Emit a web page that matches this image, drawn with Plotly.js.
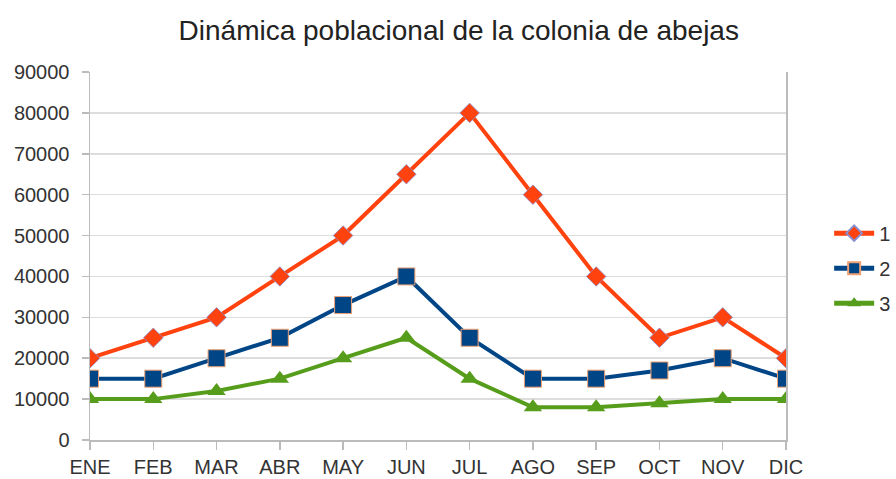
<!DOCTYPE html>
<html>
<head>
<meta charset="utf-8">
<script src="https://cdn.plot.ly/plotly-3.0.1.min.js"></script>
<style>html,body{margin:0;padding:0;background:#fff}#chart{width:896px;height:479px}</style>
</head>
<body>
<div id="chart"></div>
<script>
const months = ["ENE","FEB","MAR","ABR","MAY","JUN","JUL","AGO","SEP","OCT","NOV","DIC"];
const serie1 = [20000,25000,30000,40000,50000,65000,80000,60000,40000,25000,30000,20000];
const serie2 = [15000,15000,20000,25000,33000,40000,25000,15000,15000,17000,20000,15000];
const serie3 = [10000,10000,12000,15000,20000,25000,15000,8000,8000,9000,10000,10000];
const seriesNames = ["1","2","3"];
const yTicks = [0,10000,20000,30000,40000,50000,60000,70000,80000,90000];

const font = "Liberation Sans, Arial, sans-serif";
const traces = [
  {x: months, y: serie1, name: seriesNames[0], legendgroup: "a", mode: "lines+markers",
   line: {color: "#ff420e", width: 4},
   marker: {symbol: "diamond", size: 15, color: "#ff420e", line: {color: "#8a8fd0", width: 0.8}}},
  {x: months, y: serie2, name: seriesNames[1], legendgroup: "b", mode: "lines+markers",
   line: {color: "#004586", width: 4},
   marker: {symbol: "square", size: 17, color: "#004586", line: {color: "#f0a070", width: 1}}},
  {x: months, y: serie3, name: seriesNames[2], legendgroup: "c", mode: "lines+markers",
   line: {color: "#579d1c", width: 4},
   marker: {symbol: "triangle-up", size: 16, color: "#579d1c", line: {width: 0}}}
];

const layout = {
  width: 896, height: 479,
  margin: {l: 90, r: 110, t: 72, b: 39, autoexpand: false},
  paper_bgcolor: "#fff", plot_bgcolor: "#fff",
  font: {family: font, color: "#333", size: 20},
  title: {text: "Dinámica poblacional de la colonia de abejas", x: 0.512, xanchor: "center", y: 0.937, yanchor: "middle",
          font: {family: font, size: 28, color: "#222"}},
  xaxis: {type: "category", range: [0, 11], showgrid: false, showline: true, linecolor: "#bbb", linewidth: 1.5,
          ticks: "outside", ticklen: 8, tickcolor: "#bbb", tickwidth: 1.5,
          tickfont: {family: font, size: 20, color: "#333"}, zeroline: false, fixedrange: true},
  yaxis: {range: [0, 90000], tickvals: yTicks, ticktext: yTicks.map(String), showgrid: true, gridcolor: "#ddd", gridwidth: 1.5,
          showline: true, mirror: true, linecolor: "#bbb", linewidth: 1.5,
          ticks: "outside", ticklen: 7, tickcolor: "#bbb", tickwidth: 1.5, ticklabelstandoff: 8,
          tickfont: {family: font, size: 20, color: "#333"}, zeroline: false},
  showlegend: true,
  legend: {x: 1.062, y: 0.467, xanchor: "left", yanchor: "middle", font: {family: font, size: 20, color: "#333"},
           traceorder: "grouped", tracegroupgap: 6, itemwidth: 40, itemsizing: "constant", bgcolor: "rgba(0,0,0,0)"}
};

Plotly.newPlot("chart", traces, layout, {displayModeBar: false, staticPlot: true});
</script>
</body>
</html>
